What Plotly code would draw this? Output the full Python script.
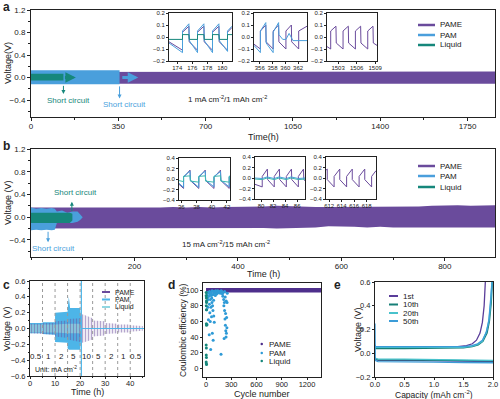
import plotly.graph_objects as go

# ======================= DATA =======================
# ---- Panel a : 1 mA cm-2 / 1 mAh cm-2, voltage envelopes ----
a_pame_t  = [0, 100, 200, 300, 400, 500, 600, 700, 800, 900, 1000, 1100, 1200, 1300, 1400, 1500, 1600, 1700, 1800, 1860]
a_pame_hi = [0.10, 0.10, 0.10, 0.10, 0.10, 0.10, 0.10, 0.10, 0.10, 0.10, 0.10, 0.11, 0.11, 0.11, 0.11, 0.11, 0.11, 0.11, 0.11, 0.11]
a_pame_lo = [-0.11, -0.11, -0.11, -0.11, -0.11, -0.11, -0.11, -0.11, -0.11, -0.11, -0.11, -0.11, -0.11, -0.11, -0.11, -0.11, -0.11, -0.11, -0.11, -0.11]
a_pam_t   = [0, 50, 100, 150, 200, 250, 300, 355]
a_pam_hi  = [0.13, 0.13, 0.13, 0.13, 0.13, 0.13, 0.13, 0.13]
a_pam_lo  = [-0.12, -0.12, -0.12, -0.12, -0.12, -0.12, -0.12, -0.12]
a_liq_t   = [0, 40, 80, 130]
a_liq_hi  = [0.07, 0.07, 0.07, 0.07]
a_liq_lo  = [-0.05, -0.05, -0.05, -0.05]
a_short_liq = 130
a_short_pam = 355

# insets of a
a_in1_t    = [172.9, 174.7, 174.7, 175.55, 175.6, 176.7, 176.7, 177.55, 177.6, 178.7, 178.7, 179.55, 179.6, 180.7, 180.7, 181.3]
a_in1_pame = [-0.04, -0.11, 0.04, 0.09, -0.04, -0.11, 0.04, 0.09, -0.04, -0.11, 0.04, 0.09, -0.04, -0.11, 0.04, 0.08]
a_in1_pam  = [-0.05, -0.13, 0.05, 0.11, -0.03, -0.13, 0.05, 0.11, -0.03, -0.13, 0.05, 0.11, -0.03, -0.12, 0.05, 0.09]
a_in1_liq  = [-0.02, -0.02, 0.02, 0.02, -0.02, -0.02, 0.02, 0.02, -0.02, -0.02, 0.02, 0.02, -0.02, -0.02, 0.02, 0.02]
a_in2_t    = [355.1, 356.1, 356.1, 356.95, 357.0, 358.1, 358.1, 358.95, 359.0, 360.1, 360.1, 360.95, 361.0, 362.1, 362.1, 363.4]
a_in2_pame = [-0.06, -0.10, 0.05, 0.10, -0.04, -0.10, 0.05, 0.10, -0.04, -0.10, 0.05, 0.10, -0.04, -0.10, 0.05, 0.09]
a_in2_pam_t = [355.1, 356.1, 356.1, 356.95, 357.0, 358.1, 358.1, 358.95, 359.0, 359.6, 360.1, 360.6, 361.2, 362.0, 363.4]
a_in2_pam   = [-0.07, -0.13, 0.05, 0.12, -0.05, -0.13, 0.04, 0.12, 0.02, -0.02, -0.02, 0.03, -0.03, -0.03, -0.03]
a_in3_t    = [1501.2, 1501.8, 1501.8, 1502.65, 1502.7, 1503.8, 1503.8, 1504.65, 1504.7, 1505.8, 1505.8, 1506.65, 1506.7, 1507.8, 1507.8, 1508.65, 1508.7, 1509.3]
a_in3_pame = [-0.08, -0.10, 0.05, 0.09, -0.05, -0.10, 0.05, 0.09, -0.05, -0.10, 0.05, 0.09, -0.05, -0.10, 0.05, 0.09, -0.05, -0.07]

# ---- Panel b : 15 mA cm-2 / 15 mAh cm-2 ----
b_pame_t  = [0, 25, 50, 75, 100, 125, 150, 175, 200, 225, 250, 275, 300, 325, 350, 375, 400, 425, 450, 475, 500,
             525, 550, 575, 600, 625, 650, 675, 700, 725, 750, 775, 800, 825, 850, 875, 897]
b_pame_hi = [0.17, 0.17, 0.16, 0.17, 0.17, 0.16, 0.17, 0.17, 0.16, 0.17, 0.17, 0.18, 0.17, 0.18, 0.17, 0.18, 0.18, 0.19, 0.19, 0.20, 0.19,
             0.19, 0.18, 0.18, 0.18, 0.18, 0.18, 0.18, 0.18, 0.18, 0.19, 0.20, 0.21, 0.21, 0.20, 0.21, 0.21]
b_pame_lo = [-0.20, -0.20, -0.19, -0.20, -0.19, -0.20, -0.19, -0.20, -0.20, -0.19, -0.20, -0.19, -0.20, -0.19, -0.20, -0.19, -0.20, -0.19, -0.19, -0.20, -0.19,
             -0.19, -0.18, -0.16, -0.16, -0.17, -0.18, -0.17, -0.18, -0.18, -0.19, -0.19, -0.18, -0.18, -0.18, -0.18, -0.18]
b_pam_t   = [0, 10, 20, 30, 40, 46, 50, 60, 70, 80, 90, 95, 100]
b_pam_hi  = [0.17, 0.15, 0.16, 0.15, 0.16, 0.15, 0.10, 0.12, 0.08, 0.10, 0.10, 0.05, 0.0]
b_pam_lo  = [-0.23, -0.22, -0.23, -0.22, -0.23, -0.22, -0.10, -0.09, -0.10, -0.10, -0.08, -0.05, 0.0]
b_liq_t   = [0, 20, 40, 60, 75, 80]
b_liq_hi  = [0.08, 0.08, 0.07, 0.08, 0.08, 0.06]
b_liq_lo  = [-0.10, -0.10, -0.10, -0.10, -0.10, -0.06]
b_short_liq = 79
b_short_pam = 33

b_in1_t    = [35.7, 36.3, 36.3, 37.15, 37.2, 38.3, 38.3, 39.15, 39.2, 40.3, 40.3, 41.15, 41.2, 42.3, 42.3, 42.4]
b_in1_pame = [-0.10, -0.18, 0.03, 0.17, -0.03, -0.18, 0.03, 0.17, -0.03, -0.18, 0.03, 0.17, -0.03, -0.18, 0.03, 0.05]
b_in1_pam  = [-0.08, -0.16, 0.05, 0.15, -0.02, -0.16, 0.05, 0.15, -0.02, -0.15, 0.05, 0.14, -0.02, -0.15, 0.05, 0.06]
b_in1_liq  = [-0.03, -0.05, 0.05, 0.06, -0.04, -0.06, 0.05, 0.06, -0.04, -0.06, 0.05, 0.06, -0.04, -0.06, 0.05, 0.05]
b_in2_t    = [79.0, 80.2, 80.2, 81.05, 81.1, 82.2, 82.2, 83.05, 83.1, 84.2, 84.2, 85.05, 85.1, 86.2, 86.2, 87.05, 87.1, 87.3]
b_in2_pame = [-0.12, -0.17, 0.03, 0.17, -0.03, -0.17, 0.03, 0.17, -0.03, -0.17, 0.03, 0.17, -0.03, -0.17, 0.03, 0.17, -0.03, -0.05]
b_in2_flat_t = [79.0, 80.2, 81.0, 82.2, 83.0, 84.2, 85.0, 86.2, 87.3]
b_in2_pam    = [0.0, -0.01, 0.02, -0.01, 0.02, -0.01, 0.02, -0.01, 0.0]
b_in2_liq    = [-0.02, -0.03, 0.0, -0.03, 0.0, -0.03, 0.0, -0.03, -0.02]
b_in3_t    = [611.5, 611.7, 611.7, 612.8, 612.8, 613.7, 613.7, 614.8, 614.8, 615.7, 615.7, 616.8, 616.8, 617.7, 617.7, 618.8, 618.8, 619.5]
b_in3_pame = [0.15, 0.17, -0.03, -0.17, 0.03, 0.17, -0.03, -0.17, 0.03, 0.17, -0.03, -0.17, 0.03, 0.17, -0.03, -0.17, 0.03, 0.14]

# ---- Panel c : rate test ----
c_pame_t  = [0, 5, 5, 10, 10, 15, 15, 20, 20, 21, 25, 25, 30, 30, 35, 35, 40, 40, 45]
c_pame_hi = [0.06, 0.06, 0.07, 0.07, 0.09, 0.10, 0.12, 0.13, 0.15, 0.18, 0.13, 0.10, 0.09, 0.07, 0.06, 0.05, 0.05, 0.04, 0.03]
c_pame_lo = [-0.06, -0.07, -0.07, -0.08, -0.10, -0.12, -0.14, -0.17, -0.17, -0.18, -0.14, -0.10, -0.09, -0.07, -0.06, -0.05, -0.05, -0.04, -0.03]
c_pam_t   = [0, 5, 5, 10, 10, 15, 15, 15.5, 16, 20, 20.5]
c_pam_hi  = [0.07, 0.07, 0.08, 0.08, 0.20, 0.21, 0.24, 0.40, 0.26, 0.26, 0.10]
c_pam_lo  = [-0.06, -0.06, -0.07, -0.08, -0.17, -0.18, -0.25, -0.27, -0.27, -0.27, -0.10]
c_pam_spike_t = [20.5, 20.5]
c_pam_spike_v = [0.7, -0.7]
c_pam_flat_t  = [20.7, 45.5]
c_pam_flat_v  = [0.0, 0.0]
c_liq_t   = [0, 5, 10, 15, 20, 20.3]
c_liq_hi  = [0.05, 0.05, 0.05, 0.06, 0.06, 0.0]
c_liq_lo  = [-0.05, -0.05, -0.05, -0.06, -0.06, 0.0]
c_bounds  = [5, 10, 15, 20, 25, 30, 35, 40]
c_centers = [2.5, 7.5, 12.5, 17.5, 22.5, 27.5, 32.5, 37.5, 42.5]
c_rates   = ["0.5", "1", "2", "5", "10", "5", "2", "1", "0.5"]

# ---- Panel d : Coulombic efficiency ----
d_pame_cyc = [0, 100, 200, 300, 400, 500, 600, 700, 800, 900, 1000, 1100, 1200, 1300, 1366]
d_pame_ce  = [99.6, 99.7, 99.6, 99.7, 99.6, 99.7, 99.6, 99.7, 99.6, 99.7, 99.6, 99.7, 99.6, 99.7, 99.6]
d_pam_cyc = [5, 8, 10, 12, 15, 18, 20, 22, 25, 28, 30, 35, 38, 40, 42, 45, 48, 50, 52, 55, 58, 60, 62, 65, 68, 70, 72, 75, 78, 80,
             82, 85, 88, 90, 92, 95, 98, 100, 105, 110, 115, 120, 125, 130, 135, 140, 150, 160, 170, 178, 180, 190, 195, 200, 205,
             210, 212, 215, 218, 220, 222, 225, 228, 230, 232, 235, 238, 240, 242, 245, 248, 250, 252]
d_pam_ce  = [92, 75, 85, 56, 95, 91, 97, 78, 88, 62, 97, 92, 43, 82, 98, 71, 95, 60, 88, 24, 78, 96, 93, 66, 90, 84, 99, 45, 80, 94,
             74, 36, 98, 87, 67, 96, 59, 98, 96, 93, 99, 97, 95, 98, 96, 99, 97, 98, 96, 18, 99, 98, 95, 92, 97,
             88, 80, 38, 84, 74, 98, 63, 91, 55, 70, 48, 40, 86, 45, 65, 52, 84, 96]
d_liq_cyc = [2, 3, 4, 5, 6, 3, 5, 4, 6, 2, 4, 3, 5, 2, 4, 6]
d_liq_ce  = [97, 93, 90, 86, 84, 80, 75, 57, 55, 30, 26, 17, 14, 8, 6, 5]

# ---- Panel e : voltage profiles ----
e_cycles = ["1st", "10th", "20th", "50th"]
e_chg_cap = [[0, 0.01, 0.5, 1.0, 1.4, 1.55, 1.65, 1.72, 1.78, 1.82, 1.85, 1.87],
             [0, 0.01, 0.5, 1.0, 1.5, 1.65, 1.75, 1.83, 1.90, 1.94, 1.97, 1.99],
             [0, 0.01, 0.5, 1.0, 1.5, 1.65, 1.74, 1.82, 1.88, 1.93, 1.96, 1.98],
             [0, 0.01, 0.5, 1.0, 1.5, 1.64, 1.74, 1.82, 1.89, 1.93, 1.96, 1.985]]
e_chg_v   = [[0.07, 0.05, 0.05, 0.05, 0.055, 0.065, 0.08, 0.11, 0.17, 0.26, 0.40, 0.60],
             [0.06, 0.04, 0.04, 0.04, 0.045, 0.055, 0.07, 0.10, 0.17, 0.27, 0.42, 0.60],
             [0.06, 0.05, 0.05, 0.05, 0.05, 0.06, 0.075, 0.10, 0.17, 0.27, 0.42, 0.60],
             [0.07, 0.055, 0.055, 0.055, 0.055, 0.065, 0.08, 0.11, 0.18, 0.28, 0.43, 0.60]]
e_dis_cap = [[0, 0.05, 0.5, 1.0, 1.5, 2.0],
             [0, 0.05, 0.5, 1.0, 1.5, 2.0],
             [0, 0.05, 0.5, 1.0, 1.5, 2.0],
             [0, 0.005, 0.05, 0.5, 1.0, 1.5, 2.0]]
e_dis_v   = [[-0.05, -0.06, -0.06, -0.065, -0.065, -0.07],
             [-0.04, -0.055, -0.055, -0.06, -0.06, -0.065],
             [-0.04, -0.05, -0.05, -0.055, -0.058, -0.06],
             [0.25, -0.06, -0.07, -0.07, -0.075, -0.078, -0.08]]

# ======================= STYLE =======================
W, H = 500, 399
FONT = "Arial, Liberation Sans, sans-serif"
INK = "#222222"
C_PAME = "#6A4B9C"
C_PAM = "#4A9FDC"
C_LIQ = "#16877B"
C_PAM_C = "#4DB5E8"
C_LIQ_C = "#8FD7E2"
C_PAME_D = "#4E2F8C"
C_PAM_D = "#2E9AD6"
E_COL = ["#5A3D9A", "#167F77", "#48C2CC", "#3C9CD8"]


def PX(x):
    return x / W


def PY(y):
    return 1 - y / H


fig = go.Figure()


def axis_pair(n, x0, x1, y0, y1, xr, yr, xt, yt, fs=8, tl=3, xminor=None, yminor=None, xfmt=None, yfmt=None, xso=0):
    xs = "xaxis" if n == 1 else f"xaxis{n}"
    ys = "yaxis" if n == 1 else f"yaxis{n}"
    xa = "x" if n == 1 else f"x{n}"
    ya = "y" if n == 1 else f"y{n}"
    common = dict(showline=True, mirror=True, linecolor=INK, linewidth=1, ticks="outside",
                  ticklen=tl, tickwidth=1, tickcolor=INK, showgrid=False, zeroline=False, tickangle=0,
                  automargin=False, tickfont=dict(family=FONT, size=fs, color=INK), fixedrange=True)
    xd = dict(common, domain=[PX(x0), PX(x1)], range=xr, tickvals=xt, anchor=ya, ticklabelstandoff=xso)
    yd = dict(common, domain=[PY(y1), PY(y0)], range=yr, tickvals=yt, anchor=xa)
    if xfmt:
        xd["tickformat"] = xfmt
    if yfmt:
        yd["tickformat"] = yfmt
    if xminor:
        xd["minor"] = dict(dtick=xminor, ticks="outside", ticklen=max(1, tl - 1), tickcolor=INK, showgrid=False)
    if yminor:
        yd["minor"] = dict(dtick=yminor, ticks="outside", ticklen=max(1, tl - 1), tickcolor=INK, showgrid=False)
    fig.update_layout({xs: xd, ys: yd})
    return xa, ya


def band(t, hi, lo, color, xa, ya, **kw):
    fig.add_trace(go.Scatter(x=list(t) + list(t)[::-1], y=list(hi) + list(lo)[::-1],
                             fill="toself", fillcolor=color, mode="lines", line=dict(width=0, color=color),
                             xaxis=xa, yaxis=ya, hoverinfo="skip", showlegend=False, **kw))


def line(x, y, color, xa, ya, w=1.0, **kw):
    fig.add_trace(go.Scatter(x=x, y=y, mode="lines", line=dict(color=color, width=w),
                             xaxis=xa, yaxis=ya, hoverinfo="skip", showlegend=False, **kw))


def text(x, y, s, size=8, color=INK, anchor="center", angle=0, bold=False):
    if bold:
        s = f"<b>{s}</b>"
    fig.add_annotation(xref="paper", yref="paper", x=PX(x), y=PY(y), text=s, showarrow=False,
                       xanchor=anchor, yanchor="middle", textangle=angle,
                       font=dict(family=FONT, size=size, color=color))


def leg_line(x0, x1, y, color, label, size=8, w=2.5):
    fig.add_shape(type="line", xref="paper", yref="paper", x0=PX(x0), x1=PX(x1), y0=PY(y), y1=PY(y),
                  line=dict(color=color, width=w))
    text(x1 + 3, y, label, size=size, anchor="left")


def arrow(xa, ya, x0, y0, x1, y1, color, w=1.2, head=2, size=1.0):
    fig.add_annotation(x=x1, y=y1, ax=x0, ay=y0, xref=xa, yref=ya, axref=xa, ayref=ya,
                       text="", showarrow=True, arrowhead=head, arrowsize=size, arrowwidth=w, arrowcolor=color)


# ======================= PANEL a =======================
xa, ya = axis_pair(1, 31, 495, 10, 117, [0, 1860], [-0.7, 1.2], [0, 350, 700, 1050, 1400, 1750],
                   [-0.4, 0.0, 0.4, 0.8, 1.2], xminor=175, yminor=0.2, yfmt=".1f", xso=-2)
band(a_pame_t, a_pame_hi, a_pame_lo, C_PAME, xa, ya)
band(a_pam_t, a_pam_hi, a_pam_lo, C_PAM, xa, ya)
band(a_liq_t, a_liq_hi, a_liq_lo, C_LIQ, xa, ya)
arrow(xa, ya, a_short_liq, 0.0, a_short_liq + 50, 0.0, C_LIQ, w=3, head=2, size=0.7)
arrow(xa, ya, a_short_pam + 5, 0.0, a_short_pam + 75, 0.0, C_PAM, w=3, head=2, size=0.7)
arrow(xa, ya, a_short_liq, -0.12, a_short_liq, -0.29, C_LIQ, w=1, head=2, size=0.8)
arrow(xa, ya, a_short_pam, -0.13, a_short_pam, -0.37, C_PAM, w=1, head=2, size=0.8)
text(68, 101, "Short circuit", 8, C_LIQ)
text(124, 104, "Short circuit", 8, C_PAM)
text(186, 99, "1 mA cm<sup>-2</sup>/1 mAh cm<sup>-2</sup>", 8, anchor="left")
text(263, 137, "Time(h)", 9)
text(8, 63, "Voltage(V)", 9, angle=-90)
leg_line(418, 435, 25, C_PAME, "PAME")
leg_line(418, 435, 35, C_PAM, "PAM")
leg_line(418, 435, 45, C_LIQ, "Liquid")

# insets a
yt_a = [-0.2, -0.1, 0.0, 0.1, 0.2]
xa6, ya6 = axis_pair(6, 169, 232, 13, 61, [172.9, 181.3], [-0.2, 0.2], [174, 176, 178, 180], yt_a, fs=6, tl=2, yfmt=".1f", xso=-1)
line(a_in1_t, a_in1_pame, C_PAME, xa6, ya6)
line(a_in1_t, a_in1_pam, C_PAM, xa6, ya6)
line(a_in1_t, a_in1_liq, C_LIQ, xa6, ya6)
xa7, ya7 = axis_pair(7, 254, 307, 13, 61, [355.1, 363.4], [-0.2, 0.2], [356, 358, 360, 362], yt_a, fs=6, tl=2, yfmt=".1f", xso=-1)
line(a_in2_t, a_in2_pame, C_PAME, xa7, ya7)
line(a_in2_pam_t, a_in2_pam, C_PAM, xa7, ya7)
xa8, ya8 = axis_pair(8, 327, 377, 13, 61, [1501.2, 1509.3], [-0.2, 0.2], [1503, 1506, 1509], yt_a, fs=6, tl=2, yfmt=".1f", xso=-1)
line(a_in3_t, a_in3_pame, C_PAME, xa8, ya8)

# ======================= PANEL b =======================
xb, yb = axis_pair(2, 31, 495, 149, 257, [0, 897], [-0.7, 1.2], [200, 400, 600, 800],
                   [-0.4, 0.0, 0.4, 0.8, 1.2], xminor=100, yminor=0.2, yfmt=".1f", xso=-2)
band(b_pame_t, b_pame_hi, b_pame_lo, C_PAME, xb, yb)
band(b_pam_t, b_pam_hi, b_pam_lo, C_PAM, xb, yb)
band(b_liq_t, b_liq_hi, b_liq_lo, C_LIQ, xb, yb)
arrow(xb, yb, b_short_liq, 0.08, b_short_liq, 0.27, C_LIQ, w=1, head=2, size=0.8)
arrow(xb, yb, b_short_pam, -0.23, b_short_pam, -0.44, C_PAM, w=1, head=2, size=0.8)
text(75, 192, "Short circuit", 8, C_LIQ)
text(53, 248, "Short circuit", 8, C_PAM)
text(180, 244, "15 mA cm<sup>-2</sup>/15 mAh cm<sup>-2</sup>", 8, anchor="left")
text(263, 274, "Time (h)", 9)
text(8, 203, "Voltage (V)", 9, angle=-90)
leg_line(418, 435, 166, C_PAME, "PAME")
leg_line(418, 435, 176, C_PAM, "PAM")
leg_line(418, 435, 187, C_LIQ, "Liquid")

yt_b = [-0.4, -0.2, 0.0, 0.2, 0.4]
xa9, ya9 = axis_pair(9, 179, 230, 158, 200, [35.7, 42.4], [-0.4, 0.4], [36, 38, 40, 42], yt_b, fs=6, tl=2, yfmt=".1f", xso=-1)
line(b_in1_t, b_in1_pame, C_PAME, xa9, ya9)
line(b_in1_t, b_in1_pam, C_PAM, xa9, ya9)
line(b_in1_t, b_in1_liq, "#3CB8B0", xa9, ya9)
xa10, ya10 = axis_pair(10, 255, 305, 157, 199, [79, 87.3], [-0.4, 0.4], [80, 82, 84, 86], yt_b, fs=6, tl=2, yfmt=".1f", xso=-1)
line(b_in2_t, b_in2_pame, C_PAME, xa10, ya10)
line(b_in2_flat_t, b_in2_pam, C_PAM, xa10, ya10)
line(b_in2_flat_t, b_in2_liq, "#3CB8B0", xa10, ya10)
xa11, ya11 = axis_pair(11, 326, 376, 157, 199, [611.5, 619.5], [-0.4, 0.4], [612, 614, 616, 618], yt_b, fs=6, tl=2, yfmt=".1f", xso=-1)
line(b_in3_t, b_in3_pame, C_PAME, xa11, ya11)

# ======================= PANEL c =======================
xc, yc = axis_pair(3, 30, 144, 281, 376, [0, 45.5], [-0.6, 0.6], [0, 10, 20, 30, 40],
                   [-0.6, -0.4, -0.2, 0.0, 0.2, 0.4, 0.6], fs=7.5, tl=2, xminor=5, yminor=0.1, yfmt=".1f", xso=-2)
band(c_pam_t, c_pam_hi, c_pam_lo, C_PAM_C, xc, yc)
band(c_liq_t, c_liq_hi, c_liq_lo, "rgba(143,215,226,0.9)", xc, yc)
band(c_pame_t, c_pame_hi, c_pame_lo, "rgba(106,75,156,0.45)", xc, yc,
     fillpattern=dict(shape="|", fgcolor=C_PAME, bgcolor="rgba(0,0,0,0)", size=3, solidity=0.5, fillmode="overlay"))
line(c_pam_spike_t, c_pam_spike_v, C_PAM_C, xc, yc, w=1.2)
line(c_pam_flat_t, c_pam_flat_v, C_PAM_C, xc, yc, w=1.2)
for b in c_bounds:
    fig.add_shape(type="line", xref=xc, yref=f"{yc} domain", x0=b, x1=b, y0=0, y1=1,
                  line=dict(color="#9A9A9A", width=1, dash="dot"))
for xc_, r in zip(c_centers, c_rates):
    fig.add_annotation(x=xc_, y=-0.35, xref=xc, yref=yc, text=r, showarrow=False,
                       font=dict(family=FONT, size=8, color=INK))
text(33, 369, "Unit: mA cm<sup>-2</sup>", 7, anchor="left")
leg_line(102, 110, 292, C_PAME, "PAME", size=7, w=2)
leg_line(102, 110, 299.5, C_PAM_C, "PAM", size=7, w=2)
leg_line(102, 110, 307, C_LIQ_C, "Liquid", size=7, w=2)
text(87, 392, "Time (h)", 9)
text(7, 329, "Voltage (V)", 9, angle=-90)

# ======================= PANEL d =======================
xd, yd = axis_pair(4, 203, 321, 283, 377, [-36, 1366], [-11, 109], [0, 300, 600, 900, 1200],
                   [0, 20, 40, 60, 80, 100], fs=7.5, tl=2, xso=-2)
fig.add_trace(go.Scatter(x=d_pame_cyc, y=d_pame_ce, mode="lines", line=dict(color=C_PAME_D, width=4.5),
                         xaxis=xd, yaxis=yd, hoverinfo="skip", showlegend=False))
fig.add_trace(go.Scatter(x=d_pam_cyc, y=d_pam_ce, mode="markers", marker=dict(color=C_PAM_D, size=3),
                         xaxis=xd, yaxis=yd, hoverinfo="skip", showlegend=False))
fig.add_trace(go.Scatter(x=d_liq_cyc, y=d_liq_ce, mode="markers", marker=dict(color=C_LIQ, size=3),
                         xaxis=xd, yaxis=yd, hoverinfo="skip", showlegend=False))
for yy, col, lab in [(344, C_PAME_D, "PAME"), (353, C_PAM_D, "PAM"), (361, C_LIQ, "Liquid")]:
    fig.add_shape(type="circle", xref="paper", yref="paper", x0=PX(260.5), x1=PX(263), y0=PY(yy + 1.25), y1=PY(yy - 1.25),
                  fillcolor=col, line=dict(width=0))
    text(267, yy, lab, 8, anchor="left")
text(262, 393.5, "Cycle number", 9)
text(183, 330, "Coulombic efficiency (%)", 8.5, angle=-90)

# ======================= PANEL e =======================
xe, ye = axis_pair(5, 375, 493, 282, 377, [0, 2.0], [-0.2, 0.6], [0, 0.5, 1.0, 1.5, 2.0],
                   [-0.2, 0.0, 0.2, 0.4, 0.6], fs=7.5, tl=2, xfmt=".1f", yfmt=".1f", xso=-2)
for i in range(len(e_cycles)):
    line(e_chg_cap[i], e_chg_v[i], E_COL[i], xe, ye, w=1.3)
    line(e_dis_cap[i], e_dis_v[i], E_COL[i], xe, ye, w=1.3)
for i, yy in enumerate([296, 304.5, 313, 321]):
    leg_line(389, 398, yy, E_COL[i], e_cycles[i], size=8, w=2)
text(434, 394, "Capacity (mAh cm<sup>-2</sup>)", 8.5)
text(358, 330, "Voltage (V)", 9, angle=-90)

# panel letters
text(6, 7, "a", 12, bold=True)
text(6, 146, "b", 12, bold=True)
text(6, 285, "c", 12, bold=True)
text(171, 285, "d", 12, bold=True)
text(337, 285, "e", 12, bold=True)

fig.update_layout(width=W, height=H, autosize=False, template="none",
                  margin=dict(l=0, r=0, t=0, b=0, pad=0),
                  paper_bgcolor="white", plot_bgcolor="white",
                  font=dict(family=FONT, size=8, color=INK), showlegend=False)
fig.write_html("out.html", config={"displayModeBar": False, "staticPlot": True},
               post_script="document.body.style.margin='0';document.body.style.padding='0';")
